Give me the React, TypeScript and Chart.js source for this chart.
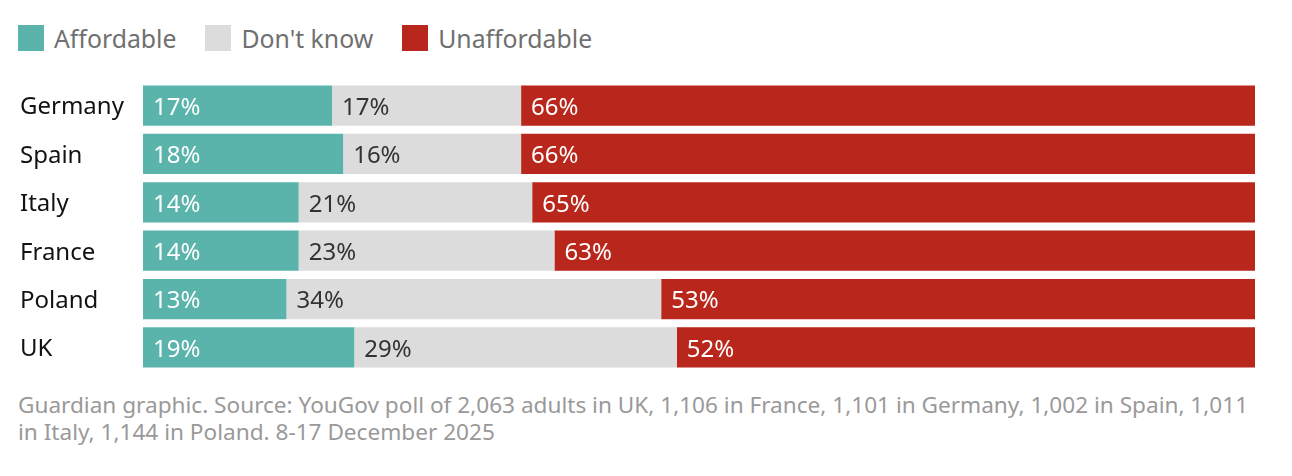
import React, { useEffect, useRef } from "react";
import { Chart, registerables } from "chart.js";

Chart.register(...registerables);

const categories = ["Germany", "Spain", "Italy", "France", "Poland", "UK"];
const seriesNames = ["Affordable", "Don't know", "Unaffordable"];
const affordable = [17, 18, 14, 14, 12.9, 19];
const dontKnow = [17, 16, 21, 23, 33.7, 29];
const unaffordable = [66, 66, 65, 63, 53.4, 52];
const seriesColors = ["#5ab4ac", "#dcdcdc", "#b9261b"];
const labelColors = ["#ffffff", "#333333", "#ffffff"];
const footerLines = [
  "Guardian graphic. Source: YouGov poll of 2,063 adults in UK, 1,106 in France, 1,101 in Germany, 1,002 in Spain, 1,011",
  "in Italy, 1,144 in Poland. 8-17 December 2025",
];

const FONT = "'Noto Sans', sans-serif";
const CANVAS_H = 325;

const valueLabels = {
  id: "valueLabels",
  afterDatasetsDraw(chart: any) {
    const ctx = chart.ctx;
    ctx.save();
    ctx.font = `24px ${FONT}`;
    ctx.textAlign = "left";
    ctx.textBaseline = "middle";
    chart.data.datasets.forEach((ds: any, di: number) => {
      const meta = chart.getDatasetMeta(di);
      meta.data.forEach((bar: any, i: number) => {
        const v = ds.data[i];
        const left = Math.min(bar.base, bar.x);
        ctx.fillStyle = labelColors[di];
        ctx.fillText(`${Math.round(v)}%`, left + 10, bar.y + 2.5);
      });
    });
    ctx.restore();
  },
};

export default function App() {
  const ref = useRef<HTMLCanvasElement | null>(null);
  useEffect(() => {
    if (!ref.current) return;
    const data = [affordable, dontKnow, unaffordable];
    const chart = new Chart(ref.current, {
      type: "bar",
      data: {
        labels: categories,
        datasets: seriesNames.map((name, i) => ({
          label: name,
          data: data[i],
          backgroundColor: seriesColors[i],
          borderWidth: 0,
          barPercentage: 40 / 48,
          categoryPercentage: 1,
        })),
      },
      options: {
        indexAxis: "y",
        animation: false,
        responsive: false,
        maintainAspectRatio: false,
        layout: { padding: { left: 12, right: 29, top: 0, bottom: 0 } },
        plugins: {
          legend: { display: false },
          tooltip: { enabled: false },
          title: { display: false },
        },
        scales: {
          x: {
            stacked: true,
            min: 0,
            max: 100,
            display: false,
          },
          y: {
            stacked: true,
            grid: { display: false },
            border: { display: false },
            afterFit: (s: any) => {
              s.width = 123;
            },
            ticks: {
              crossAlign: "far",
              labelOffset: 2,
              color: "#121212",
              font: { family: FONT, size: 24 },
            },
          },
        },
      },
      plugins: [valueLabels],
    });
    return () => chart.destroy();
  }, []);

  return (
    <div style={{ position: "relative", width: 1276, height: 460, fontFamily: FONT }}>
      <div
        style={{
          position: "absolute",
          left: 10,
          top: 17,
          display: "flex",
          alignItems: "center",
          height: 26,
        }}
      >
        {seriesNames.map((n, i) => (
          <div key={n} style={{ display: "flex", alignItems: "center", marginRight: 29 }}>
            <span
              style={{
                display: "inline-block",
                width: 26,
                height: 26,
                background: seriesColors[i],
                marginRight: 10,
              }}
            />
            <span style={{ fontSize: 24.8, color: "#707070", lineHeight: "26px" }}>{n}</span>
          </div>
        ))}
      </div>
      <canvas
        ref={ref}
        width={1276}
        height={CANVAS_H}
        style={{ position: "absolute", left: 0, top: 56, width: 1276, height: CANVAS_H }}
      />
      <div
        style={{
          position: "absolute",
          left: 10,
          top: 383,
          fontSize: 22.6,
          lineHeight: "27px",
          color: "#999999",
          whiteSpace: "nowrap",
        }}
      >
        {footerLines.map((l, i) => (
          <div key={i}>{l}</div>
        ))}
      </div>
    </div>
  );
}
